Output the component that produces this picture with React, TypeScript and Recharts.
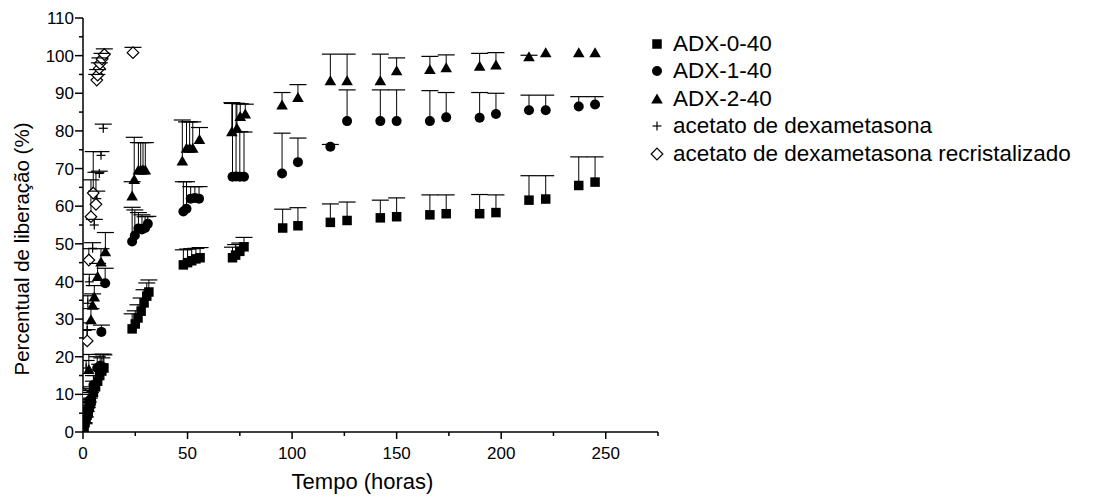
import React from 'react';
import { ScatterChart, Scatter, XAxis, YAxis, ErrorBar, Legend, Label } from 'recharts';

const FONT = '"Liberation Sans", Arial, Helvetica, sans-serif';

// ---------- data (time in hours, release %, upper SD) ----------
const adx0Time = [0.5, 1, 1.5, 2, 2.5, 3, 3.5, 4, 5, 6, 7, 8, 9, 10, 23.5, 25, 26.3, 27.8, 29.2, 30.5, 31.5, 48, 50, 52, 54, 56, 71.5, 73, 75, 77, 95.5, 102.8, 118.3, 126.3, 142.2, 150, 165.9, 173.7, 189.7, 197.5, 213.3, 221.3, 237.1, 244.9];
const adx0Mean = [1.2, 2.5, 3.5, 4.5, 5.5, 6.5, 7.5, 8.5, 10.5, 12, 13.5, 15, 16.2, 17, 27.4, 28.7, 30.3, 32.1, 34.3, 36.1, 37.2, 44.4, 45, 45.5, 46, 46.3, 46.3, 47, 48, 49.2, 54.2, 54.8, 55.7, 56.2, 56.9, 57.2, 57.7, 58, 58, 58.3, 61.6, 61.9, 65.5, 66.4];
const adx0Err = [1, 1.5, 2, 2, 2.5, 2.5, 3, 3, 3, 3, 3, 3, 3.5, 3.5, 4, 3.5, 3.5, 3.5, 3.5, 3.5, 3.2, 4, 3.6, 3.2, 2.8, 2.7, 2.8, 2.8, 2.2, 2.5, 5, 4.8, 4.9, 4.9, 4.7, 5, 5.3, 5, 5.1, 4.7, 6.5, 6.2, 7.6, 6.7];

const adx1Time = [0.5, 1, 2, 3, 4, 5, 6.8, 8.2, 9.6, 8.8, 10.6, 23.5, 24.8, 26.5, 28.2, 29.7, 31, 48, 49.5, 51.5, 53.5, 55.5, 71.5, 73.2, 75, 77, 95.2, 102.8, 118.3, 126.3, 142.2, 150, 165.9, 173.7, 189.7, 197.5, 213.3, 221.3, 237.1, 244.9];
const adx1Mean = [1.5, 3, 5.5, 8, 10, 12.5, 17, 17.6, 17.2, 26.6, 39.5, 50.6, 52.2, 54.1, 53.8, 54.2, 55.3, 58.6, 59.3, 62, 62.2, 62, 67.8, 67.9, 67.8, 67.8, 68.7, 71.7, 75.8, 82.6, 82.6, 82.6, 82.6, 83.6, 83.5, 84.5, 85.5, 85.5, 86.5, 87];
const adx1Err = [1, 1, 1.5, 2, 2, 2.5, 3, 3, 3.5, 1.8, 4, 9.1, 6.8, 4.2, 3.9, 3, 2, 7.9, 7.2, 3.2, 3, 3.2, 19.5, 19.4, 12, 11.9, 10.7, 6.4, 0.6, 8.3, 8.3, 8.3, 8.1, 6.6, 6.7, 5.5, 4, 4, 2.6, 2.1];

const adx2Time = [1, 2.8, 3.8, 4.6, 5.4, 7, 8.6, 10.7, 23.5, 24.5, 26.5, 27.6, 28.7, 29.8, 47.5, 49.5, 51, 52.5, 55.7, 71.2, 73.6, 75.2, 77.6, 95.2, 102.8, 118.3, 126.3, 142.2, 150, 165.9, 173.7, 189.7, 197.5, 213.3, 221.3, 237.1, 244.9];
const adx2Mean = [5, 16.6, 29.8, 33.7, 35.9, 41.3, 45.2, 47.9, 62.7, 67.1, 69.6, 69.6, 69.6, 69.6, 72, 75.4, 75.4, 75.4, 77.7, 79.8, 80.7, 83.8, 84.5, 86.9, 88.9, 93.3, 93.3, 93.3, 96, 96.3, 96.8, 97.2, 97.5, 99.7, 100.8, 100.8, 100.8];
const adx2Err = [3, 4, 3, 3, 3, 3.5, 3.5, 5.1, 3.8, 11.2, 7.3, 7.3, 7.3, 7.3, 10.9, 7, 7, 7, 3.2, 7.7, 6.6, 3.4, 2.6, 3.3, 3.4, 7.1, 7.1, 7.1, 3.4, 3.5, 3.4, 3.4, 3.3, 0.4, 0, 0, 0];

const dexTime = [0.5, 1, 1.5, 2, 2.3, 3, 4.6, 5.4, 6.6, 7.8, 8.6, 9.7];
const dexMean = [3.5, 9, 17, 27, 34.2, 39.9, 48.8, 55, 62, 68.7, 73.5, 80.7];
const dexErr = [1.5, 2, 2, 2, 2, 2, 1.5, 1.5, 2, 0.6, 1, 1.1];

const recTime = [0.5, 2, 2.8, 3.8, 4.9, 6.2, 6.6, 7, 7.8, 8.1, 9.1, 10.2, 23.9];
const recMean = [10.1, 24.2, 45.7, 57.2, 63.5, 60.5, 93.5, 94.8, 96.6, 97.9, 99.1, 100.3, 100.8];
const recErr = [1, 3, 3, 9.8, 11, 8.5, 1.5, 1.5, 1.5, 1.5, 1.5, 1.5, 1.4];

const seriesNames = ['ADX-0-40', 'ADX-1-40', 'ADX-2-40', 'acetato de dexametasona', 'acetato de dexametasona recristalizado'];
const xTicks = [0, 25, 50, 75, 100, 125, 150, 175, 200, 225, 250, 275];
const yTicks = [0, 5, 10, 15, 20, 25, 30, 35, 40, 45, 50, 55, 60, 65, 70, 75, 80, 85, 90, 95, 100, 105, 110];
const xTitle = 'Tempo (horas)';
const yTitle = 'Percentual de liberação (%)';

// ---------- helpers ----------
const build = (t: number[], m: number[], e: number[]) => t.map((x, i) => ({ x, y: m[i], e: [0, e[i]] }));
const buildCaps = (t: number[], m: number[], e: number[]) =>
  t.map((x, i) => ({ x, y: m[i] + e[i], err: e[i] })).filter((p) => p.err > 0.2);

type Kind = 'square' | 'circle' | 'triangle' | 'plus' | 'diamond';

const Marker = ({ kind, cx, cy }: { kind: Kind; cx: number; cy: number }) => {
  if (cx == null || cy == null) return null;
  switch (kind) {
    case 'square':
      return <rect x={cx - 4.75} y={cy - 4.75} width={9.5} height={9.5} fill="#000" />;
    case 'circle':
      return <circle cx={cx} cy={cy} r={5} fill="#000" />;
    case 'triangle':
      return <polygon points={`${cx},${cy - 5.5} ${cx - 5.8},${cy + 4.5} ${cx + 5.8},${cy + 4.5}`} fill="#000" />;
    case 'plus':
      return (
        <g stroke="#000" strokeWidth={1.2}>
          <line x1={cx - 4.5} x2={cx + 4.5} y1={cy} y2={cy} />
          <line x1={cx} x2={cx} y1={cy - 4.5} y2={cy + 4.5} />
        </g>
      );
    case 'diamond':
      return (
        <polygon
          points={`${cx},${cy - 5.8} ${cx + 5.8},${cy} ${cx},${cy + 5.8} ${cx - 5.8},${cy}`}
          fill="#fff"
          stroke="#000"
          strokeWidth={1.2}
        />
      );
  }
  return null;
};

const shapeOf = (kind: Kind) => (p: any) => <Marker kind={kind} cx={p.cx} cy={p.cy} />;
const CapShape = (p: any) =>
  p.cx == null ? null : <line x1={p.cx - 8.5} x2={p.cx + 8.5} y1={p.cy} y2={p.cy} stroke="#000" strokeWidth={1.2} />;

const series: { kind: Kind; t: number[]; m: number[]; e: number[] }[] = [
  { kind: 'square', t: adx0Time, m: adx0Mean, e: adx0Err },
  { kind: 'circle', t: adx1Time, m: adx1Mean, e: adx1Err },
  { kind: 'triangle', t: adx2Time, m: adx2Mean, e: adx2Err },
  { kind: 'plus', t: dexTime, m: dexMean, e: dexErr },
  { kind: 'diamond', t: recTime, m: recMean, e: recErr },
];

const YTick = (p: any) => {
  const v = p.payload.value;
  const major = v % 10 === 0;
  return (
    <g>
      <line x1={p.x - (major ? 8 : 4)} x2={p.x} y1={p.y} y2={p.y} stroke="#000" strokeWidth={1.5} />
      {major && (
        <text x={p.x - 9} y={p.y} dy="0.36em" textAnchor="end" fontSize={17} fontFamily={FONT} fill="#000">
          {v}
        </text>
      )}
    </g>
  );
};

const XTick = (p: any) => {
  const v = p.payload.value;
  const major = v % 50 === 0;
  return (
    <g>
      <line x1={p.x} x2={p.x} y1={p.y} y2={p.y + (major ? 7 : 4)} stroke="#000" strokeWidth={1.5} />
      {major && v <= 250 && (
        <text x={p.x} y={p.y + 21} dy="0.36em" textAnchor="middle" fontSize={17} fontFamily={FONT} fill="#000">
          {v}
        </text>
      )}
    </g>
  );
};

const XTitle = (p: any) => {
  const vb = p.viewBox || { x: 75, y: 424, width: 575, height: 65 };
  return (
    <text x={vb.x + vb.width / 2 - 8} y={vb.y + 49} dy="0.36em" textAnchor="middle" fontSize={22} fontFamily={FONT} fill="#000">
      {xTitle}
    </text>
  );
};

const YTitle = (p: any) => {
  const vb = p.viewBox || { x: 0, y: 10, width: 75, height: 414 };
  const x = vb.x + 14;
  const y = vb.y + vb.height / 2 + 24;
  return (
    <text x={x} y={y} dy="0.36em" textAnchor="middle" fontSize={20.5} fontFamily={FONT} fill="#000" transform={`rotate(-90 ${x} ${y})`}>
      {yTitle}
    </text>
  );
};

const LegendContent = () => (
  <div style={{ fontFamily: FONT, fontSize: 22.5, color: '#000' }}>
    {series.map((s, i) => (
      <div key={i} style={{ display: 'flex', alignItems: 'center', height: 27.5, whiteSpace: 'nowrap' }}>
        <svg width={16} height={16} style={{ marginRight: 8, flex: 'none' }}>
          <Marker kind={s.kind} cx={8} cy={8} />
        </svg>
        <span>{seriesNames[i]}</span>
      </div>
    ))}
  </div>
);

export default function App() {
  return (
    <ScatterChart width={1097} height={489} margin={{ top: 10, right: 447, bottom: 0, left: 0 }}>
      <XAxis
        type="number"
        dataKey="x"
        domain={[0, 275]}
        ticks={xTicks}
        interval={0}
        allowDataOverflow
        height={65}
        tickSize={0}
        tickMargin={0}
        tick={XTick}
        tickLine={false}
        axisLine={{ stroke: '#000', strokeWidth: 1.5 }}
      >
        <Label content={XTitle} />
      </XAxis>
      <YAxis
        type="number"
        dataKey="y"
        domain={[0, 110]}
        ticks={yTicks}
        interval={0}
        allowDataOverflow
        width={75}
        tickSize={0}
        tickMargin={0}
        tick={YTick}
        tickLine={false}
        axisLine={{ stroke: '#000', strokeWidth: 1.5 }}
      >
        <Label content={YTitle} />
      </YAxis>
      {series.map((s, i) => (
        <Scatter
          key={`s${i}`}
          name={seriesNames[i]}
          data={build(s.t, s.m, s.e)}
          shape={shapeOf(s.kind)}
          isAnimationActive={false}
        >
          <ErrorBar dataKey="e" direction="y" width={0} stroke="#000" strokeWidth={1} />
        </Scatter>
      ))}
      {series.map((s, i) => (
        <Scatter
          key={`c${i}`}
          data={buildCaps(s.t, s.m, s.e)}
          shape={CapShape}
          isAnimationActive={false}
          legendType="none"
        />
      ))}
      <Legend
        layout="vertical"
        align="center"
        verticalAlign="middle"
        content={LegendContent}
        wrapperStyle={{ left: 641, top: 22, width: 456 }}
      />
    </ScatterChart>
  );
}
